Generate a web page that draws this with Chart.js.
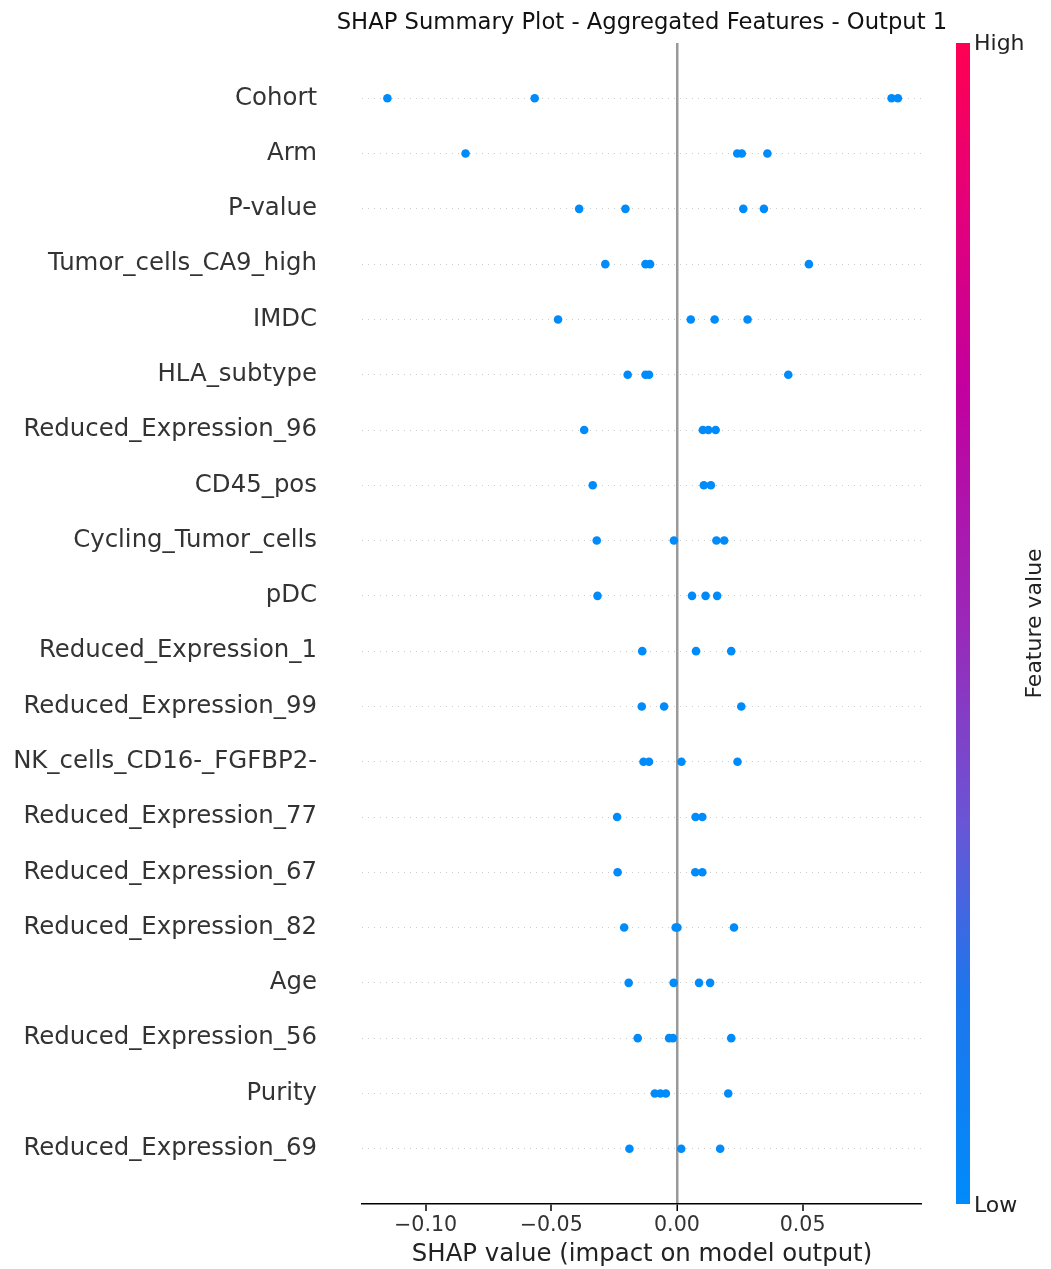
<!DOCTYPE html>
<html>
<head>
<meta charset="utf-8">
<script src="https://cdn.jsdelivr.net/npm/chart.js@4.4.1/dist/chart.umd.min.js"></script>
<style>
  html, body { margin: 0; padding: 0; background: #fff; }
  #wrap { width: 1051px; height: 1269px; }
</style>
</head>
<body>
<div id="wrap"><canvas id="shap-chart" width="1051" height="1269"></canvas></div>
<script>
// features, top to bottom as in the plot
const FEATURES = [
  'Cohort', 'Arm', 'P-value', 'Tumor_cells_CA9_high', 'IMDC', 'HLA_subtype',
  'Reduced_Expression_96', 'CD45_pos', 'Cycling_Tumor_cells', 'pDC',
  'Reduced_Expression_1', 'Reduced_Expression_99', 'NK_cells_CD16-_FGFBP2-',
  'Reduced_Expression_77', 'Reduced_Expression_67', 'Reduced_Expression_82',
  'Age', 'Reduced_Expression_56', 'Purity', 'Reduced_Expression_69',
]

// SHAP values per feature (same order as FEATURES)
const SHAP_VALUES = [
  [-0.1152, -0.0566, 0.0854, 0.0879],
  [-0.0841, 0.0240, 0.0258, 0.0360],
  [-0.0389, -0.0205, 0.0264, 0.0346],
  [-0.0285, -0.0125, -0.0107, 0.0525],
  [-0.0473, 0.0055, 0.0150, 0.0281],
  [-0.0196, -0.0125, -0.0111, 0.0443],
  [-0.0369, 0.0103, 0.0125, 0.0154],
  [-0.0335, 0.0107, 0.0135],
  [-0.0319, -0.0012, 0.0157, 0.0188],
  [-0.0316, 0.0060, 0.0114, 0.0160],
  [-0.0138, 0.0076, 0.0216],
  [-0.0140, -0.0051, 0.0256],
  [-0.0133, -0.0111, 0.0018, 0.0241],
  [-0.0238, 0.0074, 0.0101],
  [-0.0236, 0.0073, 0.0101],
  [-0.0210, -0.0005, 0.0002, 0.0227],
  [-0.0192, -0.0013, 0.0088, 0.0132],
  [-0.0156, -0.0031, -0.0016, 0.0216],
  [-0.0088, -0.0066, -0.0044, 0.0204],
  [-0.0189, 0.0017, 0.0172],
]

const X_TICKS = [-0.10, -0.05, 0.00, 0.05]
const X_MIN = -0.1253
const X_MAX = 0.0975

const TITLE = 'SHAP Summary Plot - Aggregated Features - Output 1'
const FONT = "'DejaVu Sans', sans-serif"
const DOT_BLUE = '#008bfb'

const nRows = FEATURES.length
const points = []
FEATURES.forEach((name, k) => {
  SHAP_VALUES[k].forEach(v => points.push({ x: v, y: nRows - 1 - k }))
})

// title over the plot + colorbar with its labels on the right
const decorPlugin = {
  id: 'decor',
  afterDraw(chart) {
    const { ctx, chartArea } = chart
    ctx.save()
    ctx.fillStyle = '#111'
    ctx.font = `22.7px ${FONT}`
    ctx.textAlign = 'center'
    ctx.textBaseline = 'middle'
    ctx.fillText(TITLE, (chartArea.left + chartArea.right) / 2, 23)

    const x = chartArea.right + 34
    const w = 14
    const top = chartArea.top
    const bottom = chartArea.bottom
    const g = ctx.createLinearGradient(0, bottom, 0, top)
    g.addColorStop(0.00, '#008bfb')
    g.addColorStop(0.18, '#1d76ec')
    g.addColorStop(0.33, '#6a55d5')
    g.addColorStop(0.50, '#9a28b8')
    g.addColorStop(0.70, '#c2009f')
    g.addColorStop(0.86, '#e4007a')
    g.addColorStop(1.00, '#ff0052')
    ctx.fillStyle = g
    ctx.fillRect(x, top, w, bottom - top)
    ctx.fillStyle = '#222'
    ctx.font = `22px ${FONT}`
    ctx.textAlign = 'left'
    ctx.fillText('High', x + w + 4, top + 1)
    ctx.fillText('Low', x + w + 4, bottom + 2)
    ctx.translate(x + w + 65, (top + bottom) / 2)
    ctx.rotate(-Math.PI / 2)
    ctx.textAlign = 'center'
    ctx.fillText('Feature value', 0, 0)
    ctx.restore()
  },
}

new Chart(document.getElementById('shap-chart'), {
  type: 'scatter',
  data: {
    datasets: [{
      data: points,
      backgroundColor: DOT_BLUE,
      borderWidth: 0,
      pointRadius: 4.3,
      pointHoverRadius: 4.3,
    }],
  },
  options: {
    responsive: false,
    animation: false,
    layout: { padding: { left: 0, right: 129, top: 43, bottom: 0 } },
    plugins: {
      legend: { display: false },
      tooltip: { enabled: false },
      title: { display: false },
    },
    scales: {
      x: {
        type: 'linear',
        min: X_MIN,
        max: X_MAX,
        afterBuildTicks: scale => { scale.ticks = X_TICKS.map(v => ({ value: v })) },
        afterFit: scale => { scale.paddingLeft = 0; scale.paddingRight = 0 },
        grid: {
          drawOnChartArea: true,
          drawTicks: true,
          tickLength: 7,
          tickColor: '#000',
          tickWidth: 1.5,
          color: c => (c.tick && c.tick.value === 0 ? '#999999' : 'rgba(0,0,0,0)'),
          lineWidth: c => (c.tick && c.tick.value === 0 ? 2.5 : 0),
        },
        border: { display: true, color: '#000', width: 1.5 },
        ticks: {
          color: '#333',
          font: { family: FONT, size: 20.6 },
          padding: 2,
          callback: v => v.toFixed(2).replace('-', '\u2212'),
        },
        title: {
          display: true,
          text: 'SHAP value (impact on model output)',
          color: '#222',
          font: { family: FONT, size: 24.4 },
          padding: { top: 0, bottom: 0 },
        },
      },
      y: {
        type: 'linear',
        min: -1,
        max: nRows,
        afterFit: scale => {
          scale.width = 362
          scale.paddingTop = 0
          scale.paddingBottom = 0
        },
        afterBuildTicks: scale => {
          scale.ticks = FEATURES.map((_, k) => ({ value: k }))
        },
        grid: {
          drawTicks: false,
          color: '#cccccc',
          lineWidth: 1,
        },
        border: { display: false, dash: [1, 5] },
        ticks: {
          autoSkip: false,
          color: '#333',
          font: { family: FONT, size: 24.4 },
          padding: 45,
          callback: v => FEATURES[nRows - 1 - v] ?? '',
        },
      },
    },
  },
  plugins: [decorPlugin],
})
</script>
</body>
</html>
